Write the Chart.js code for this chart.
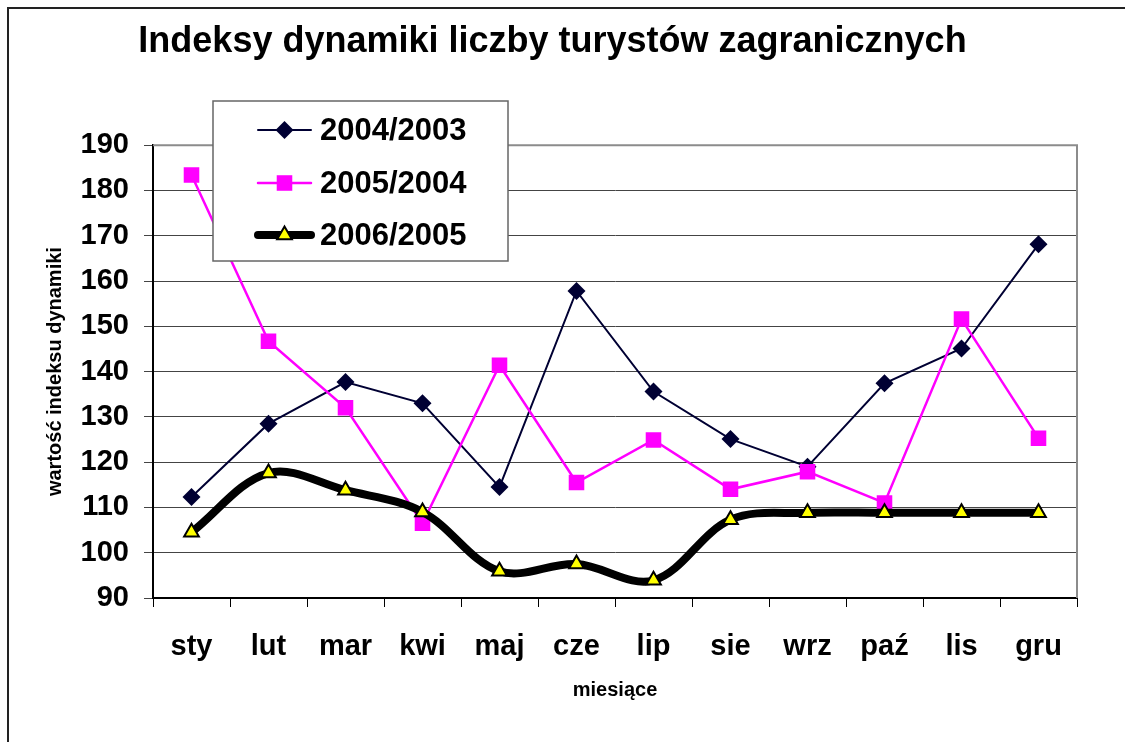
<!DOCTYPE html>
<html>
<head>
<meta charset="utf-8">
<script src="https://cdn.jsdelivr.net/npm/chart.js@4"></script>
<style>
  html, body { margin: 0; padding: 0; background: #fff; }
  #wrap { width: 1125px; height: 742px; }
</style>
</head>
<body>
<div id="wrap"><canvas id="touristChart" width="1125" height="742"></canvas></div>
<script>
// months (Polish short names)
const months = ['sty', 'lut', 'mar', 'kwi', 'maj', 'cze', 'lip', 'sie', 'wrz', 'paź', 'lis', 'gru'];

// index values
const idx2004 = [112.3, 128.5, 137.7, 133.0, 114.5, 157.8, 135.6, 125.1, 119.0, 137.4, 145.1, 168.1];
const idx2005 = [183.4, 146.7, 132.0, 106.5, 141.4, 115.5, 124.9, 114.0, 117.9, 111.0, 151.6, 125.3];
const idx2006 = [104.5, 117.6, 113.8, 109.0, 95.9, 97.5, 93.9, 107.3, 108.8, 108.8, 108.8, 108.8];

const seriesNames = ['2004/2003', '2005/2004', '2006/2005'];
const yTicks = { min: 90, max: 190, step: 10 };

const FONT = "'Liberation Sans', Arial, sans-serif";

// white background, outer frame and right/top plot border
const framePlugin = {
  id: 'frame',
  beforeDraw(chart) {
    const c = chart.ctx;
    c.save();
    c.fillStyle = '#fff';
    c.fillRect(0, 0, chart.width, chart.height);
    c.strokeStyle = '#222';
    c.lineWidth = 2;
    c.beginPath();
    c.moveTo(8, chart.height);
    c.lineTo(8, 8);
    c.lineTo(chart.width, 8);
    c.stroke();
    c.restore();
  },
  beforeDatasetsDraw(chart) {
    const a = chart.chartArea;
    const c = chart.ctx;
    c.save();
    c.strokeStyle = '#8c8c8c';
    c.lineWidth = 2;
    c.beginPath();
    c.moveTo(a.left, a.top);
    c.lineTo(a.right, a.top);
    c.lineTo(a.right, a.bottom);
    c.stroke();
    c.restore();
  }
};

// floating legend box drawn over the plot, like the original
const boxLegend = {
  id: 'boxLegend',
  afterDraw(chart) {
    const c = chart.ctx;
    const box = { x: 213, y: 101, w: 295, h: 160 };
    const rows = [130, 183, 235];
    c.save();
    c.fillStyle = '#fff';
    c.fillRect(box.x, box.y, box.w, box.h);
    c.strokeStyle = '#666';
    c.lineWidth = 1.5;
    c.strokeRect(box.x, box.y, box.w, box.h);
    chart.data.datasets.forEach((ds, i) => {
      const y = rows[i];
      c.strokeStyle = ds.borderColor;
      c.lineWidth = ds.borderWidth;
      c.lineCap = 'round';
      c.beginPath();
      c.moveTo(258, y);
      c.lineTo(311, y);
      c.stroke();
      c.fillStyle = ds.pointBackgroundColor;
      c.strokeStyle = ds.pointBorderColor;
      c.lineWidth = ds.pointBorderWidth;
      c.beginPath();
      drawMarker(c, ds.pointStyle, ds.pointRadius, 284.5, y);
      c.fill();
      if (ds.pointBorderWidth) c.stroke();
      c.fillStyle = '#000';
      c.font = 'bold 31px ' + FONT;
      c.textBaseline = 'middle';
      c.fillText(ds.label, 320, y + 1);
    });
    c.restore();
  }
};

function drawMarker(c, style, r, x, y) {
  if (style === 'rectRot') {
    c.moveTo(x, y - r); c.lineTo(x + r, y); c.lineTo(x, y + r); c.lineTo(x - r, y); c.closePath();
  } else if (style === 'rect') {
    const s = r * Math.SQRT1_2;
    c.rect(x - s, y - s, 2 * s, 2 * s);
  } else {
    const w = r * Math.sin(Math.PI / 3);
    c.moveTo(x, y - r); c.lineTo(x + w, y + r / 2); c.lineTo(x - w, y + r / 2); c.closePath();
  }
}

const ctx = document.getElementById('touristChart').getContext('2d');
const touristChart = new Chart(ctx, {
  type: 'line',
  data: {
    labels: months,
    datasets: [
      {
        label: seriesNames[0],
        data: idx2004,
        borderColor: '#000033',
        borderWidth: 2,
        pointStyle: 'rectRot',
        pointRadius: 9,
        pointBackgroundColor: '#000033',
        pointBorderColor: '#000033',
        pointBorderWidth: 0,
        tension: 0,
        order: 2
      },
      {
        label: seriesNames[1],
        data: idx2005,
        borderColor: '#ff00ff',
        borderWidth: 2.5,
        pointStyle: 'rect',
        pointRadius: 11,
        pointBackgroundColor: '#ff00ff',
        pointBorderColor: '#ff00ff',
        pointBorderWidth: 0,
        tension: 0,
        order: 1
      },
      {
        label: seriesNames[2],
        data: idx2006,
        borderColor: '#000000',
        borderWidth: 8,
        pointStyle: 'triangle',
        pointRadius: 8.5,
        pointBackgroundColor: '#ffff00',
        pointBorderColor: '#000000',
        pointBorderWidth: 2,
        tension: 0.35,
        order: 0
      }
    ]
  },
  options: {
    responsive: false,
    animation: false,
    devicePixelRatio: 1,
    layout: { padding: { left: 28, right: 48, top: 8, bottom: 0 } },
    plugins: {
      legend: { display: false },
      tooltip: { enabled: false },
      title: {
        display: true,
        text: 'Indeksy dynamiki liczby turystów zagranicznych',
        color: '#000',
        font: { family: FONT, size: 36, weight: 'bold' },
        padding: { top: 12, bottom: 82 }
      }
    },
    scales: {
      x: {
        offset: true,
        grid: {
          offset: true,
          drawOnChartArea: false,
          color: '#000',
          tickLength: 9
        },
        border: { color: '#000', width: 2 },
        ticks: {
          color: '#000',
          padding: 23,
          font: { family: FONT, size: 29, weight: 'bold' }
        },
        title: {
          display: true,
          text: 'miesiące',
          color: '#000',
          font: { family: FONT, size: 20, weight: 'bold' },
          padding: { top: 0, bottom: 40 }
        },
        afterFit(scale) { scale.height = 144; }
      },
      y: {
        min: yTicks.min,
        max: yTicks.max,
        grid: { color: '#444', lineWidth: 1, tickLength: 9 },
        border: { color: '#000', width: 2 },
        ticks: {
          stepSize: yTicks.step,
          color: '#000',
          padding: 15,
          font: { family: FONT, size: 29, weight: 'bold' }
        },
        title: {
          display: true,
          text: 'wartość indeksu dynamiki',
          color: '#000',
          font: { family: FONT, size: 20, weight: 'bold' },
          padding: { top: 15, bottom: 0 }
        },
        afterFit(scale) { scale.width = 125; }
      }
    }
  },
  plugins: [framePlugin, boxLegend]
});
</script>
</body>
</html>
